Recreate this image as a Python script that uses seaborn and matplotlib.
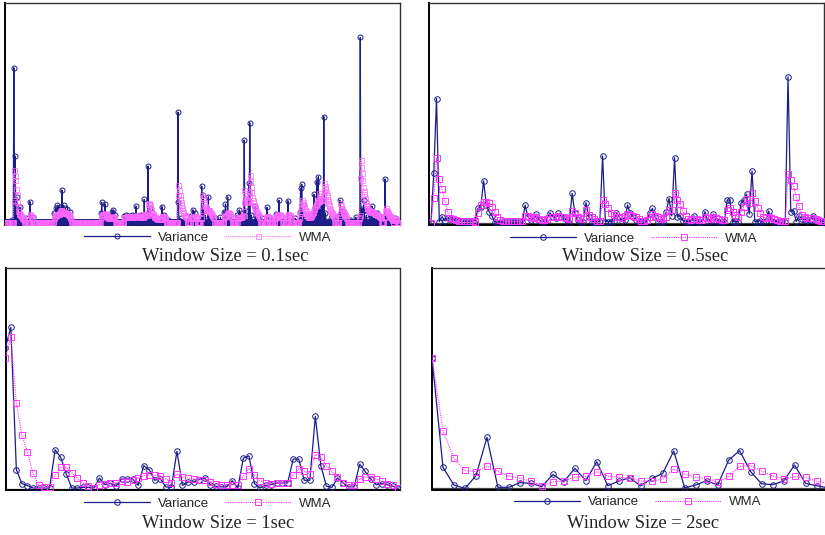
# -*- coding: utf-8 -*-
"""
Variance vs WMA for four window sizes (0.1, 0.5, 1 and 2 sec).
"""

import numpy as np
import seaborn as sns
import matplotlib.pyplot as plt

# ---------------- data (heights, 0-100 = panel height) ----------------

# Window size = 0.1 sec : 715 samples, mostly ~0, only the non-zero samples are listed
n_01 = 715
var_01_idx = [13, 16, 18, 21, 24, 27, 38, 45, 50,
              88, 92, 95, 99, 100, 103, 106, 109, 113, 117,
              173, 175, 178, 181, 185, 194, 196, 199,
              215, 219, 223, 227, 230, 233, 237, 241, 245, 248, 252, 256, 259, 262, 266, 270, 284, 287, 295,
              313, 314, 318, 336, 340, 343, 356, 359, 362, 368, 372, 380, 390,
              396, 399, 403, 406, 420, 424, 427, 430, 433, 436, 441, 443, 446, 453, 457,
              465, 474, 478, 490, 496, 500, 512, 516, 525,
              534, 535, 537, 540, 555, 559, 561, 564, 567, 570, 574, 577, 580,
              590, 600, 606, 609, 611, 615, 625, 635, 643, 646, 649, 650, 654, 660, 664, 667, 670, 674, 677,
              688, 691, 700, 706]
var_01_val = [1.0, 70.5, 30.1, 11.2, 2.0, 6.6, 1.5, 9.2, 2.0,
              4.0, 6.3, 7.6, 6.9, 5.5, 14.5, 7.6, 6.3, 6.0, 4.6,
              4.0, 8.9, 2.5, 8.1, 2.0, 4.6, 5.4, 3.0,
              2.5, 3.1, 2.8, 2.5, 3.0, 2.5, 7.2, 2.8, 3.0, 2.0, 10.2, 3.0, 25.5, 6.1, 2.5, 1.5, 6.9, 3.0, 1.0,
              50.2, 8.9, 1.5, 2.5, 5.4, 4.1, 16.3, 12.2, 3.0, 11.4, 2.0, 1.5, 2.0,
              4.6, 8.1, 11.4, 2.5, 3.0, 5.4, 4.0, 2.0, 37.4, 5.0, 17.6, 45.3, 3.0, 7.2, 2.0,
              1.5, 6.6, 2.0, 3.4, 9.9, 2.0, 9.6, 2.0, 1.5,
              4.6, 15.3, 17.1, 3.0, 3.0, 12.5, 5.0, 18.3, 20.6, 6.0, 7.6, 48.1, 4.0,
              1.5, 2.0, 9.9, 3.0, 5.0, 1.5, 1.0, 2.0, 84.4, 6.0, 9.9, 5.4, 3.0, 3.5, 7.2, 3.0, 4.0, 4.1, 2.0,
              19.6, 2.0, 1.0, 1.5]

# WMA 0.1 sec: runs of consecutive samples (start index, values)
wma_01_runs = [
    (16, [10, 23.7, 21, 19.1, 15, 12, 9, 7, 5, 4, 3.5, 3.5, 3, 2.5, 2, 1.8, 1.5, 1.2, 1.0]),
    (45, [3.0, 3.5, 2.5, 2.0, 1.5]),
    (88, [1.5, 2, 2.5, 3, 3, 3.2, 3.5, 3.5, 3.4, 3.6, 3.8, 4.2, 4.8, 5.5, 5.2, 5.0,
          4.6, 4.5, 4.5, 4.4, 4.2, 4.0, 4.0, 4.0, 3.8, 3.6, 3.5, 3.0, 2.5, 2.0, 1.5, 1.0]),
    (173, [2.0, 2.5, 3.0, 3.2, 3.5, 3.4, 3.5, 3.6, 3.8, 3.5, 3.0, 2.6, 2.2, 2.0, 1.8, 1.6,
           1.5, 1.6, 1.8, 2.0, 2.2, 2.4, 2.2, 2.0, 1.8, 1.5]),
    (215, [2.0, 2.1, 2.2, 2.2, 2.3, 2.4, 2.4, 2.3, 2.2, 2.2, 2.3, 2.4, 2.4, 2.3, 2.2, 2.2,
           2.2, 2.3, 2.4, 2.4, 2.5, 2.6, 2.8, 3.0, 2.8, 2.6, 2.5, 2.4, 2.3, 2.3, 2.4, 2.5,
           2.4, 2.3, 2.2, 2.3, 2.6, 3.5, 3.4, 3.2, 3.0, 3.0, 3.0, 4.5, 8.0, 8.2, 8.4, 7.5,
           6.5, 5.5, 4.5, 4.0, 3.5, 3.0, 2.6, 2.2, 2.0, 2.0, 1.8, 1.6, 1.5, 1.4, 1.3, 1.2,
           1.2, 1.2, 1.2, 1.3, 1.5, 2.5, 2.8, 2.8, 2.5, 2.2, 1.8, 1.5]),
    (313, [12.0, 16.8, 14.5, 12.2, 10.5, 9.0, 7.5, 6.5, 5.5, 4.5, 3.8, 3.2, 3.0, 2.5, 2.2, 2.0]),
    (336, [1.5, 1.8, 2.0, 2.0, 2.0, 2.2, 2.4, 2.5, 2.2, 2.0, 1.5]),
    (354, [1.5, 2.0, 5.5, 12.2, 11.5, 10.5, 9.0, 8.0, 7.0, 6.5, 6.0, 5.5, 5.0, 5.2, 5.5,
           5.2, 5.0, 4.5, 4.0, 3.5, 3.0, 2.5, 2.2, 2.0]),
    (396, [2.0, 2.5, 2.8, 3.0, 3.2, 3.5, 4.0, 4.5, 4.2, 4.0, 3.5, 3.0, 2.5, 2.0]),
    (420, [1.5, 1.8, 2.0, 2.0, 2.0, 2.2, 2.2, 2.0, 2.0, 2.5, 3.0, 5.0, 9.0, 14.5, 13.0,
           12.0, 10.5, 9.5, 9.0, 9.5, 10.0, 12.0, 14.0, 21.4, 18.5, 16.1, 13.5, 11.5, 10.0,
           8.5, 7.5, 7.0, 6.5, 6.0, 5.0, 4.5, 4.0, 3.5, 3.0, 2.5, 2.0]),
    (472, [1.5, 2.0, 2.5, 2.5, 2.2, 2.0, 1.8]),
    (488, [1.5, 2.0, 2.2, 2.5, 2.6, 3.0, 3.2, 3.5, 3.4, 3.2, 3.0, 2.6, 2.2, 2.0]),
    (510, [2.0, 2.5, 3.5, 3.4, 3.2, 3.0, 2.5, 2.0]),
    (532, [1.5, 2.5, 4.0, 5.0, 6.5, 8.0, 9.9, 9.0, 8.0, 7.0, 6.2, 5.5, 4.8, 4.2, 3.5, 3.0,
           2.6, 2.2, 2.0, 2.0, 2.2, 2.5, 3.0, 3.5, 4.0, 4.5, 5.0, 6.0, 6.5, 7.0, 7.5, 8.0,
           8.5, 9.0, 9.5, 10.0, 11.0, 13.0, 12.0, 11.0, 10.5, 10.0, 10.0, 10.5, 12.0, 14.0,
           17.6, 16.5, 15.0, 13.5, 12.0, 10.5, 9.5, 8.5, 7.5, 6.5, 6.0, 5.0, 4.5, 4.0, 3.5,
           3.0, 2.5, 2.0]),
    (604, [2.0, 3.0, 4.0, 8.4, 7.5, 6.5, 5.8, 5.0, 4.5, 4.0, 3.5, 3.0, 2.5, 2.0, 1.5]),
    (640, [1.5, 2.0, 3.0, 20.0, 28.2, 25.0, 22.2, 19.0, 16.1, 14.0, 12.5, 11.0, 9.5, 8.5,
           7.5, 7.0, 6.5, 6.0, 5.5, 5.0, 4.8, 4.5, 4.5, 4.8, 5.0, 4.6, 4.3, 4.0, 3.8, 3.6,
           3.5, 3.5, 3.4, 3.2, 3.0, 3.0, 2.8, 2.5, 2.2, 2.0, 2.0]),
    (686, [2.0, 2.5, 5.0, 6.1, 5.5, 5.0, 4.5, 4.0, 3.5, 3.0, 2.6, 2.2, 2.0, 1.6, 1.2, 1.0]),
    (704, [1.0, 1.2, 1.5, 1.2, 1.0]),
]

# Window size = 0.5 sec : 143 samples
var_05 = [0, 22.5, 56.6, 0.5, 2.7, 0.9, 2.0, 1.5, 1.2, 0.9,
          0.9, 0.5, 0.5, 0.5, 0.5, 0.5, 1.2, 6.5, 7.3, 19.0,
          8.0, 5.0, 3.2, 0.5, 0, 0, 0.2, 0.2, 0.2, 0.2,
          0.2, 0.2, 0.2, 0.2, 8.0, 2.7, 1.2, 2.0, 3.9, 1.2,
          0.5, 0.5, 2.0, 4.5, 2.7, 2.0, 4.2, 2.7, 2.0, 1.2,
          0, 13.4, 4.2, 1.2, 0.5, 0.5, 9.1, 2.7, 0.5, 0.5,
          0.5, 0.5, 30.4, 0.5, 0.5, 0.5, 0.9, 4.2, 2.7, 0.9,
          1.2, 8.0, 4.2, 2.7, 1.2, 0.5, 0.2, 0.2, 0.5, 4.5,
          6.5, 2.7, 0.5, 0.5, 0.5, 5.0, 11.0, 3.2, 29.6, 2.7,
          3.2, 0.9, 0.5, 0.5, 0.2, 3.2, 0.5, 0.5, 0.5, 5.0,
          0.5, 0.9, 3.9, 0.9, 0.5, 0.2, 0.2, 10.3, 10.3, 0.5,
          0.5, 0.5, 8.8, 10.3, 13.0, 3.9, 23.5, 0.5, 0.5, 0.9,
          0.5, 0.9, 5.3, 0.9, 0.5, 0.5, 0.2, 0.2, 0.2, 66.5,
          5.0, 5.3, 0.5, 3.2, 1.5, 1.2, 0.9, 1.2, 3.2, 0.9,
          0.9, 0.5, 0.5]
wma_05 = [0, 11.4, 29.3, 19.8, 15.5, 10.0, 5.0, 2.0, 1.5, 1.2,
          0.9, 0.9, 0.9, 0.9, 0.9, 0.9, 0.5, 4.2, 8.0, 9.5,
          9.2, 8.8, 7.3, 4.7, 2.4, 1.2, 0.9, 0.7, 0.7, 0.7,
          0.7, 0.7, 0.7, 0.7, 3.0, 3.2, 2.4, 2.3, 2.4, 1.5,
          1.2, 1.2, 1.5, 2.7, 2.7, 2.7, 3.0, 2.7, 2.4, 2.0,
          1.5, 5.2, 4.2, 2.7, 2.0, 1.5, 5.9, 3.5, 2.7, 1.5,
          0.9, 0.9, 10.3, 8.3, 6.5, 4.5, 3.5, 2.7, 2.4, 2.0,
          3.0, 3.9, 3.5, 3.0, 2.4, 1.5, 0.9, 0.9, 1.0, 2.7,
          3.9, 3.0, 2.4, 1.5, 2.0, 2.7, 5.6, 5.9, 13.7, 10.4,
          8.3, 5.3, 3.0, 1.5, 1.2, 1.5, 1.5, 1.2, 1.2, 2.4,
          2.0, 1.5, 2.4, 2.0, 1.5, 1.2, 1.2, 5.9, 6.9, 5.0,
          3.5, 2.7, 5.0, 7.3, 11.0, 8.8, 13.4, 10.0, 6.9, 4.2,
          2.7, 2.0, 2.7, 2.0, 1.5, 1.2, 0.9, 0.9, 0.9, 22.2,
          19.4, 16.7, 11.8, 7.6, 3.5, 2.7, 2.0, 2.0, 2.3, 1.5,
          1.2, 0.9, 0.9]

# Window size = 1 sec : 72 samples
var_1 = [63.6, 73.0, 8.6, 2.3, 1.4, 0.3, 0.3, 0.3, 0.3, 17.6,
         14.2, 6.8, 0.3, 0.3, 0.6, 0.6, 0.3, 4.8, 1.8, 2.4,
         1.1, 4.4, 4.4, 4.4, 1.5, 10.4, 8.6, 3.8, 4.5, 0.8,
         0.6, 16.9, 1.5, 3.0, 3.0, 4.1, 4.8, 1.8, 1.1, 0.8,
         0.8, 3.6, 0.3, 13.9, 14.8, 2.3, 0.3, 1.5, 1.8, 2.6,
         2.6, 2.6, 13.4, 13.4, 3.8, 3.8, 32.7, 10.4, 1.1, 0.6,
         4.8, 2.6, 0.8, 0.8, 11.1, 7.8, 4.4, 1.8, 2.3, 1.8,
         1.1, 0.0]
wma_1 = [59.3, 68.5, 38.6, 24.1, 16.6, 6.9, 1.5, 0.6, 0.6, 6.0,
         9.6, 9.6, 7.2, 4.7, 2.6, 1.1, 0.3, 1.8, 2.3, 2.6,
         2.6, 3.3, 2.9, 4.1, 4.8, 5.9, 6.3, 6.0, 5.9, 4.5,
         2.6, 6.6, 5.3, 4.8, 4.5, 4.1, 4.1, 3.0, 2.3, 1.8,
         1.5, 1.8, 1.8, 5.6, 9.0, 6.0, 3.6, 2.6, 2.1, 2.6,
         2.6, 2.6, 6.0, 9.0, 7.8, 6.8, 15.4, 14.2, 10.4, 7.8,
         5.4, 2.6, 1.8, 1.5, 4.4, 5.3, 5.4, 4.5, 3.3, 2.1,
         1.5, 0.3]

# Window size = 2 sec : 37 samples
var_2 = [59.2, 9.5, 1.5, 0.0, 5.7, 23.1, 0.5, 0.5, 2.6, 2.3,
         0.8, 6.3, 3.0, 9.1, 3.5, 12.1, 1.2, 3.3, 4.8, 1.1,
         4.5, 6.8, 16.9, 0.3, 1.5, 3.5, 1.5, 12.8, 17.1, 7.6,
         2.1, 1.7, 3.3, 10.6, 2.3, 1.2, 0.3]
wma_2 = [59.2, 26.0, 13.6, 8.2, 7.6, 10.1, 7.7, 5.6, 4.5, 3.3,
         1.2, 3.0, 3.3, 5.1, 5.4, 7.6, 5.6, 5.0, 4.8, 3.3,
         3.3, 4.2, 8.8, 6.5, 5.1, 4.4, 2.7, 5.4, 10.0, 10.3,
         7.9, 5.7, 4.2, 5.4, 5.0, 3.3, 2.3]

titles = ["Window Size = 0.1sec", "Window Size = 0.5sec",
          "Window Size = 1sec", "Window Size = 2sec"]

# build the 0.1 sec series from the listed samples
var_01 = np.zeros(n_01)
var_01[var_01_idx] = var_01_val
wma_01 = np.zeros(n_01)
for start, vals in wma_01_runs:
    wma_01[start:start + len(vals)] = vals

# ---------------- plot ----------------
sns.set_style("white")
plt.rcParams['font.family'] = ['Liberation Sans', 'DejaVu Sans']

W, H = 825, 535
fig = plt.figure(figsize=(W / 100, H / 100), dpi=100)

var_color = "#1c1c8a"
wma_color = "#ff33ff"


def px_axes(x0, x1, y0, y1):
    # axes from pixel box (top-left origin)
    return fig.add_axes([x0 / W, 1 - y1 / H, (x1 - x0) / W, (y1 - y0) / H])


# (axes box in px, xlim, ylim, legend centre px, title centre px)
panels = [
    ((5, 399.5, 3.3, 225.3), (0, n_01 - 1), (-1.65, 100), (208, 237.5), (225, 260.5)),
    ((428.5, 824, 3.3, 225.3), (-0.9, 142), (-1.2, 100), (634, 238.5), (645.5, 260.5)),
    ((6, 399.5, 267.7, 490), (0.13, 71.2), (-0.6, 100), (207.5, 503.5), (218.5, 528)),
    ((432, 833, 267.7, 489.5), (0, 36.5), (-0.5, 100), (638, 502), (643, 528)),
]
series = [(var_01, wma_01), (np.array(var_05), np.array(wma_05)),
          (np.array(var_1), np.array(wma_1)), (np.array(var_2), np.array(wma_2))]

for (box, xl, yl, leg_c, tit_c), (v, w), title in zip(panels, series, titles):
    ax = px_axes(*box)
    x = np.arange(len(v))
    dense = len(v) > 200
    ms = 3.6 if dense else 4.0
    wma_mew = 0.5 if dense else 0.7
    wma_c = "#ff66ff" if dense else wma_color

    ax.axhline(0, color="#444444", lw=0.9, zorder=1)

    sns.lineplot(x=x, y=v, ax=ax, color=var_color, linewidth=0.9,
                 marker='o', markersize=ms, markerfacecolor='none',
                 markeredgecolor=var_color, markeredgewidth=0.7,
                 label="Variance", zorder=3)
    sns.lineplot(x=x, y=w, ax=ax, color=wma_c, linewidth=0.8,
                 linestyle=(0, (1, 1)), marker='s', markersize=ms,
                 markerfacecolor='none', markeredgecolor=wma_c,
                 markeredgewidth=wma_mew, label="WMA", zorder=4)

    ax.set_xlim(*xl)
    ax.set_ylim(*yl)
    ax.set_xticks([])
    ax.set_yticks([])
    ax.set_xlabel('')
    ax.set_ylabel('')
    for side in ['top', 'right']:
        ax.spines[side].set_color('#333333')
        ax.spines[side].set_linewidth(1.0)
    for side in ['left', 'bottom']:
        ax.spines[side].set_color('black')
        ax.spines[side].set_linewidth(1.4)

    handles, labels = ax.get_legend_handles_labels()
    ax.legend(handles, labels, loc='center',
              bbox_to_anchor=(leg_c[0] / W, 1 - leg_c[1] / H),
              bbox_transform=fig.transFigure, ncol=2, frameon=False,
              handlelength=5.0, handletextpad=0.6, columnspacing=1.2,
              borderpad=0, prop={'family': 'Liberation Sans', 'size': 9.5})

    fig.text(tit_c[0] / W, 1 - tit_c[1] / H, title, ha='center', va='baseline',
             family='Liberation Serif', size=13.3)

plt.savefig("out.png", dpi=100)
